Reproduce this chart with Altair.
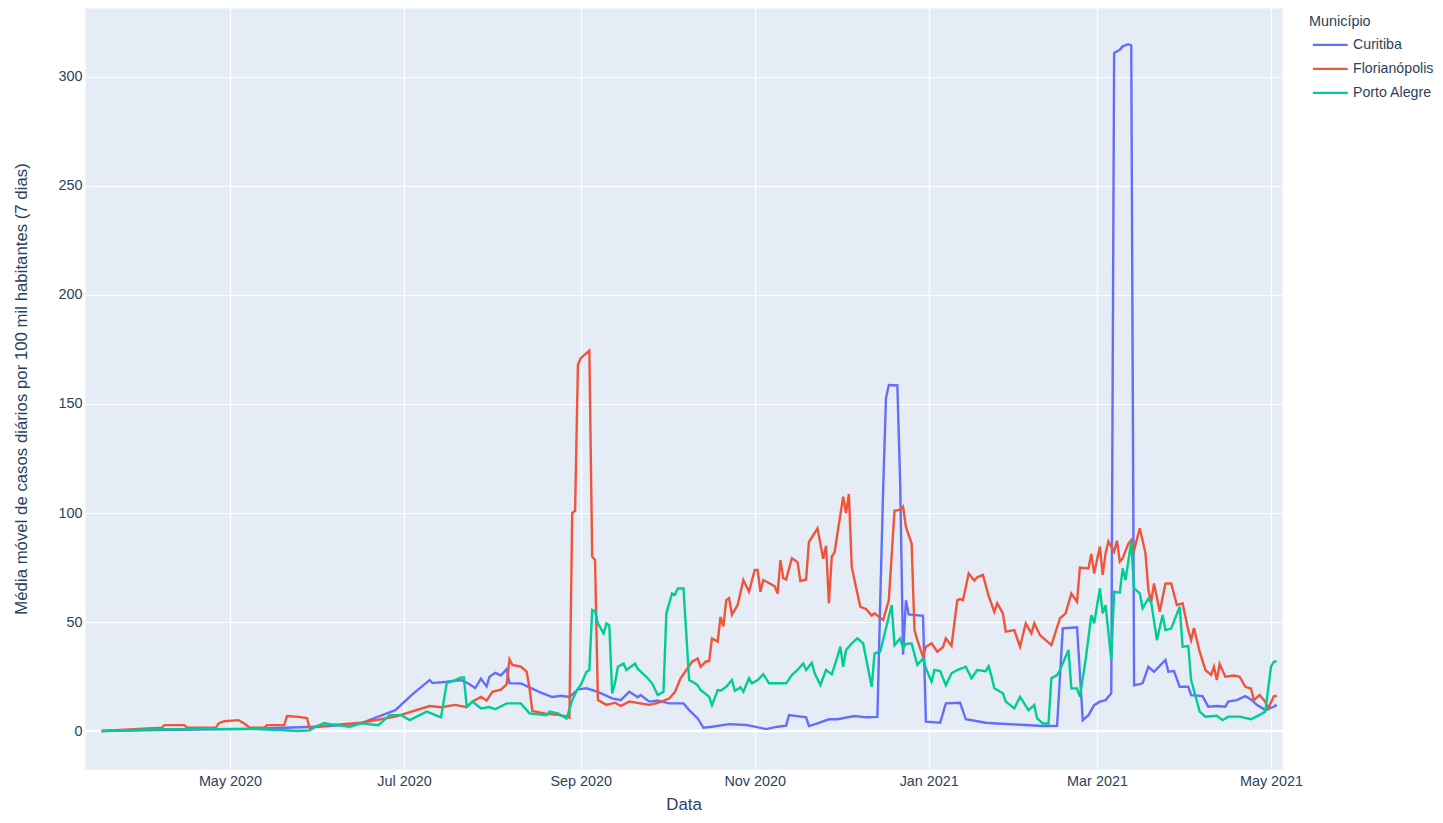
import altair as alt
import pandas as pd

# ---- data (days since 2020-03-17, value) ----
curitiba_dia = [0, 20, 52, 75, 80, 91, 97, 103, 108, 110, 115, 116, 121, 126, 129, 131, 133, 135, 136, 138,
                140, 142, 143, 147, 150, 154, 158, 161, 164, 167, 170, 174, 179, 182, 185, 188, 189, 192, 195, 199,
                204, 206, 209, 211, 214, 220, 226, 229, 233, 237, 240, 241, 247, 248, 251, 255, 258, 264, 268, 272,
                273, 274, 275, 276, 279, 280, 281, 282, 283, 288, 289, 294, 296, 301, 303, 310, 314, 330, 335, 337,
                342, 344, 346, 348, 350, 352, 354, 355, 357, 358, 360, 361, 362, 364, 365, 367, 369, 373, 374, 376,
                378, 381, 382, 386, 388, 391, 394, 395, 398, 401, 403, 405, 408, 411, 412]
curitiba_val = [0, 0.5, 1, 2, 2.3, 3.5, 6.6, 9.6, 15.7, 18, 23.4, 22, 22.6, 23.4, 21.5, 19.7, 24, 20.5, 24.9, 26.7,
                25.5, 28.4, 22, 21.8, 20, 17.6, 15.6, 16.2, 15.6, 19.1, 19.6, 18, 15, 14.2, 18, 15.5, 16.5, 13.5, 14, 12.7,
                12.7, 9.6, 5.8, 1.5, 2, 3.2, 2.8, 2, 0.9, 2, 2.5, 7.3, 6.3, 2.3, 3.5, 5.4, 5.4, 6.9, 6.3, 6.5,
                60, 110, 152.6, 158.7, 158.5, 113, 35, 60, 53.5, 52.8, 4.3, 3.8, 12.7, 13, 5.4, 3.8, 3.5, 2.3, 2.4, 47.1,
                47.6, 5, 7.3, 11.9, 13.5, 14.2, 17.3, 311, 312.4, 314, 315, 314.5, 21, 21.5, 22, 29.5, 27.2, 32.6, 27.2, 27.5,
                20.3, 20.3, 16.5, 16, 11.2, 11.5, 11.2, 13.5, 14.2, 16, 14.5, 12, 9.6, 11.2, 12]

floripa_dia = [0, 21, 22, 29, 30, 40, 41, 43, 48, 50, 52, 57, 58, 64, 65, 69, 72, 73, 75, 80,
               91, 103, 115, 119, 124, 128, 130, 133, 135, 137, 140, 142, 143, 144, 147, 149, 150, 151, 156, 160,
               163, 164, 165, 166, 167, 168, 171, 172, 173, 174, 177, 180, 182, 185, 192, 195, 199, 201, 203, 207,
               209, 210, 212, 213, 214, 216, 217, 218, 219, 220, 221, 223, 225, 227, 229, 230, 231, 232, 236, 237,
               238, 239, 240, 242, 244, 245, 247, 248, 251, 253, 254, 255, 256, 257, 258, 260, 261, 262, 263, 264,
               266, 268, 270, 271, 274, 276, 278, 280, 281, 282, 284, 285, 286, 288, 289, 291, 293, 295, 296, 298,
               300, 301, 302, 304, 306, 307, 309, 311, 313, 314, 316, 317, 320, 322, 324, 326, 327, 329, 331, 333,
               336, 338, 340, 342, 343, 346, 347, 348, 350, 351, 352, 353, 355, 356, 357, 358, 360, 361, 362, 364,
               366, 367, 368, 369, 371, 373, 375, 377, 379, 381, 382, 383, 385, 387, 389, 390, 391, 392, 394, 397,
               399, 401, 403, 404, 406, 408, 409, 411, 412]
floripa_val = [0, 1.5, 2.7, 2.7, 1.5, 1.5, 3.5, 4.5, 5, 3.5, 1.5, 1.5, 2.7, 2.7, 6.9, 6.5, 6, 1, 2, 2.7,
               3.8, 6.6, 11.5, 10.9, 12, 10.9, 13.5, 15.7, 14, 18, 19, 21.4, 32.9, 30.3, 29.5, 27.3, 20, 9.2, 7.9, 7.4,
               6.7, 6.1, 100, 101, 168, 171, 174.5, 80, 78.5, 14.2, 12, 13, 11.5, 13.5, 12, 12.9, 14.9, 17.9, 24.2, 31.8,
               33.3, 29.5, 32, 32, 42.5, 41, 52.4, 48, 60, 61, 53.3, 57.8, 69.3, 64, 73.9, 73.9, 63.9, 69.3, 66.4, 63,
               78.4, 70.1, 69.5, 79.3, 77.5, 68.8, 69.5, 86.8, 92.9, 79, 85, 58.6, 80, 82, 90.7, 107.5, 100, 108.7, 75.4, 69,
               57, 56, 53, 54, 50.9, 60, 101, 101.5, 102.9, 93.6, 86, 46.3, 41.7, 34, 38.7, 40.2, 36.4, 38.5, 42.5, 39,
               60, 60.5, 60, 72.3, 69, 70.5, 71.6, 62, 54.7, 58.6, 54, 45.6, 46.3, 38.7, 49.4, 44.8, 49.4, 44, 41.7, 39.4,
               51.7, 54, 63.1, 59.3, 75, 74.6, 81.2, 72.3, 84.6, 71.6, 81.5, 86.9, 82.3, 87.3, 77.7, 79.2, 86, 87.6, 83, 93,
               81.5, 64.7, 59.3, 67.7, 54.7, 67.7, 67.7, 57.8, 58.6, 46.3, 41.7, 47.2, 36.4, 28, 25.7, 29.5, 23.4, 30.7, 24.9, 25.5,
               24.9, 20.3, 19.5, 14.2, 16.5, 13.4, 10.4, 15.9, 16.2]

poa_dia = [0, 20, 52, 62, 69, 73, 75, 78, 80, 87, 91, 97, 101, 105, 108, 114, 119, 121, 124, 126,
           127, 128, 130, 133, 136, 138, 142, 147, 150, 156, 157, 160, 163, 165, 167, 168, 170, 171, 172, 173,
           174, 176, 177, 178, 179, 180, 181, 183, 184, 187, 188, 191, 193, 195, 197, 198, 200, 201, 202, 204,
           206, 208, 209, 210, 213, 214, 216, 217, 219, 221, 222, 224, 225, 227, 228, 230, 232, 234, 236, 240,
           242, 244, 246, 247, 249, 250, 252, 254, 256, 258, 259, 260, 261, 263, 265, 267, 270, 271, 273, 277,
           278, 280, 281, 282, 284, 286, 288, 289, 291, 292, 294, 296, 298, 300, 303, 305, 307, 310, 311, 312,
           313, 316, 317, 320, 322, 325, 327, 328, 330, 332, 333, 335, 336, 339, 340, 342, 343, 345, 347, 348,
           350, 351, 352, 354, 355, 357, 358, 359, 361, 362, 364, 365, 367, 368, 370, 372, 373, 375, 378, 379,
           381, 382, 385, 387, 391, 393, 395, 399, 403, 406, 408, 410, 411, 412]
poa_val = [0, 0.8, 1, 0.5, 0, 0.3, 2, 3.7, 3.2, 2, 3.5, 2.7, 7.3, 7.3, 5, 8.9, 6.3, 22, 23.4, 24.6,
           24.6, 11.2, 13.5, 10.4, 11, 10, 12.7, 12.7, 8.1, 7.3, 8.9, 8.1, 5.8, 14.2, 19.6, 21.1, 27.2, 28, 55.5, 55,
           49.4, 44.8, 49.4, 48.5, 17.3, 21.9, 29.5, 31, 28, 31, 28.5, 24.9, 21.9, 16.5, 18, 54, 63.1, 62.5, 65.4, 65.4,
           23.4, 21.9, 21, 18.8, 15.7, 11.9, 18.8, 18.5, 20.3, 23.4, 18.5, 20, 18, 24.2, 21.9, 23.4, 26.1, 21.9, 21.9, 21.9,
           25.7, 28, 31, 28, 31.3, 26.5, 21.1, 28, 26, 34.1, 38.7, 29.5, 37.2, 40.2, 42.5, 40.2, 20.3, 35.6, 36.5, 57.8,
           39.4, 42.5, 38, 40, 40.2, 30.3, 33.3, 28.8, 22.6, 28, 27.5, 21, 26.5, 28, 29.5, 24.2, 28, 27.5, 29.8, 25.2,
           19.6, 17.3, 13.5, 10.4, 15.7, 9.6, 11.9, 5.8, 3.5, 3.5, 24.2, 25.7, 28, 37.2, 19.6, 19.5, 15.7, 32.6, 53.2, 49.4,
           65.4, 54, 57.8, 32.6, 63.9, 63.5, 74.6, 69.3, 86.9, 65.4, 63.1, 56.3, 60.7, 59, 41.7, 53.2, 46.3, 47, 57, 38.7,
           39, 23.4, 8.9, 6.6, 7, 5, 6.6, 6.6, 5.4, 7.4, 8.9, 29.5, 31.8, 32.1]

municipios = ["Curitiba", "Florianópolis", "Porto Alegre"]
cores = ["#636EFA", "#EF553B", "#00CC96"]
y_ticks = [0, 50, 100, 150, 200, 250, 300]
x_ticks = ["2020-05-01", "2020-07-01", "2020-09-01", "2020-11-01", "2021-01-01", "2021-03-01", "2021-05-01"]

base = pd.Timestamp("2020-03-17")
frames = []
for nome, dias, vals in [("Curitiba", curitiba_dia, curitiba_val),
                         ("Florianópolis", floripa_dia, floripa_val),
                         ("Porto Alegre", poa_dia, poa_val)]:
    frames.append(pd.DataFrame({"Município": nome, "dia": dias, "valor": vals}))
df = pd.concat(frames, ignore_index=True)
df["Data"] = (base + pd.to_timedelta(df["dia"], unit="D")).dt.strftime("%Y-%m-%d")


def ms(s):
    return int(pd.Timestamp(s).value // 10**6)


x_domain = [ms("2020-03-11T04:00"), ms("2021-05-04T20:40")]
tick_vals = [ms(d) for d in x_ticks]

FONT = "Liberation Sans"
TXT = "#2a3f5f"

x_enc = alt.X("Data:T",
              scale=alt.Scale(type="utc", domain=x_domain, nice=False),
              axis=alt.Axis(values=tick_vals, format="%b %Y", title="Data",
                            labelPadding=5, titlePadding=9, labelAngle=0))
y_enc = alt.Y("valor:Q",
              scale=alt.Scale(domain=[-17.4, 331.6], nice=False, zero=False),
              axis=alt.Axis(values=y_ticks, labelPadding=3, titlePadding=27,
                            title="Média móvel de casos diários por 100 mil habitantes (7 dias)"))

zero = alt.Chart(pd.DataFrame({"valor": [0]})).mark_rule(color="white", strokeWidth=2.4).encode(y="valor:Q")

lines = alt.Chart(df).mark_line(strokeWidth=2.4, interpolate="linear").encode(
    x=x_enc,
    y=y_enc,
    color=alt.Color("Município:N",
                    scale=alt.Scale(domain=municipios, range=cores),
                    legend=alt.Legend(orient="none", legendX=1224, legendY=7, padding=0,
                                      symbolType="M-0.6,0H5.2", symbolSize=144, symbolStrokeWidth=2.4,
                                      rowPadding=9, labelOffset=29, titlePadding=8)),
    detail="Município:N",
    order="dia:Q",
)

chart = alt.layer(zero, lines).properties(
    width=1197, height=761,
    autosize=alt.AutoSizeParams(type="none"),
    padding={"left": 77, "top": 0, "right": 153, "bottom": 46},
    background="white",
).configure_view(
    fill="#E5ECF6", stroke="transparent"
).configure_axis(
    grid=True, gridColor="white", gridWidth=1.2, domain=False, ticks=False,
    labelFont=FONT, labelFontSize=14.4, labelColor=TXT,
    titleFont=FONT, titleFontSize=16.8, titleColor=TXT, titleFontWeight="normal",
).configure_legend(
    titleFont=FONT, titleFontSize=14.4, titleColor=TXT, titleFontWeight="normal",
    labelFont=FONT, labelFontSize=14.2, labelColor=TXT,
)

chart.save("out.html", embed_options={"renderer": "svg", "actions": False})
